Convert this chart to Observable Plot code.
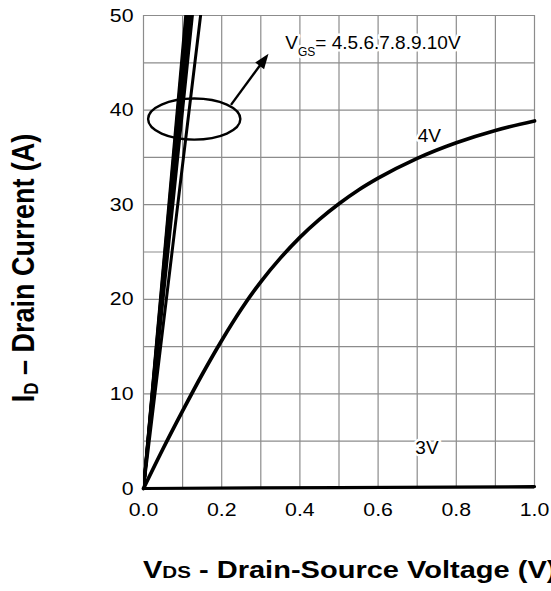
<!DOCTYPE html>
<html>
<head>
<meta charset="utf-8">
<script src="https://cdn.jsdelivr.net/npm/d3@7"></script>
<script src="https://cdn.jsdelivr.net/npm/@observablehq/plot@0.6"></script>
<style>
  html, body { margin: 0; padding: 0; background: #fff; }
</style>
</head>
<body>
<div id="chart"></div>
<script>
// ---- tick labels / grid ----
const xTicks = [0, 0.2, 0.4, 0.6, 0.8, 1.0];
const yTicks = [0, 10, 20, 30, 40, 50];
const xGrid = [0, 0.1, 0.2, 0.3, 0.4, 0.5, 0.6, 0.7, 0.8, 0.9, 1.0];
const yGrid = [0, 5, 10, 15, 20, 25, 30, 35, 40, 45, 50];

// ---- VGS = 4.5 ... 10 V: nearly straight lines, VDS where they leave the top (ID = 50 A) ----
const bandVgs = ["10V", "9V", "8V", "7V", "6V", "5V", "4.5V"];
const bandVdsAt50A = [0.108, 0.110, 0.112, 0.115, 0.119, 0.125, 0.146];

// ---- VGS = 4 V curve ----
const vds4V = [0, 0.05, 0.1, 0.15, 0.2, 0.25, 0.3, 0.35, 0.4, 0.45, 0.5, 0.55, 0.6, 0.7, 0.8, 0.9, 1.0];
const id4V  = [0, 4.2, 8.2, 12.05, 15.65, 18.95, 21.85, 24.35, 26.55, 28.45, 30.1, 31.55, 32.8, 34.9, 36.55, 37.85, 38.85];

// ---- VGS = 3 V curve ----
const vds3V = [0, 0.5, 1.0];
const id3V  = [0, 0.1, 0.2];

// ---- annotations ----
const curveLabels = ["4V", "3V"];
const curveLabelVds = [0.731, 0.725];
const curveLabelId = [37.3, 4.3];
const vgsNote = ["V", "GS", "= 4.5.6.7.8.9.10V"];
const vgsNoteAt = [0.364, 46.4];
const ellipseCenter = [0.131, 39.0];
const ellipseRadii = [0.118, 2.17];
const arrowFrom = [0.225, 40.5];
const arrowTo = [0.321, 45.9];

// build tables
const bandRows = bandVgs.flatMap((v, i) => [
  {vgs: v, vds: 0, id: 0},
  {vgs: v, vds: bandVdsAt50A[i], id: 50}
]);
const rows4V = vds4V.map((v, i) => ({vds: v, id: id4V[i]}));
const rows3V = vds3V.map((v, i) => ({vds: v, id: id3V[i]}));
const labelRows = curveLabels.map((t, i) => ({text: t, vds: curveLabelVds[i], id: curveLabelId[i]}));

const gridStyle = {stroke: "#8c8c8c", strokeOpacity: 1, strokeWidth: 1.2};

const plot = Plot.plot({
  width: 551,
  height: 591,
  marginLeft: 143,
  marginRight: 17,
  marginTop: 15,
  marginBottom: 103,
  style: {fontFamily: "'Liberation Sans', Arial, Helvetica, sans-serif", fontSize: "19px", background: "#fff", color: "#000"},
  x: {domain: [0, 1], label: null},
  y: {domain: [0, 50], label: null},
  marks: [
    Plot.gridX(xGrid, gridStyle),
    Plot.gridY(yGrid, gridStyle),
    Plot.axisX(xTicks, {tickSize: 0, tickPadding: 14, tickFormat: d3.format(".1f"), fontSize: 19, label: null}),
    Plot.axisY(yTicks, {tickSize: 0, tickPadding: 10, fontSize: 19, label: null}),
    Plot.line(bandRows, {x: "vds", y: "id", z: "vgs", stroke: "#000", strokeWidth: 3, clip: true}),
    Plot.line(rows4V, {x: "vds", y: "id", curve: "monotone-x", stroke: "#000", strokeWidth: 3.7}),
    Plot.line(rows3V, {x: "vds", y: "id", stroke: "#000", strokeWidth: 3.2}),
    Plot.text(labelRows, {x: "vds", y: "id", text: "text", fontSize: 19, fill: "#000", stroke: "#fff", strokeWidth: 5, textAnchor: "middle", lineAnchor: "middle"})
  ]
});

document.getElementById("chart").append(plot);

const X = plot.scale("x"), Y = plot.scale("y");
const svg = d3.select(plot);

// slightly widen tick labels like the reference
svg.selectAll('g[aria-label$="tick label"] text').each(function() {
  const w = this.getComputedTextLength();
  this.setAttribute("textLength", (w * 1.12).toFixed(2));
  this.setAttribute("lengthAdjust", "spacingAndGlyphs");
});

// VGS annotation
const note = svg.append("text")
  .attr("x", X.apply(vgsNoteAt[0]))
  .attr("y", Y.apply(vgsNoteAt[1]))
  .attr("text-anchor", "start")
  .attr("font-size", 19)
  .attr("fill", "#000")
  .attr("stroke", "#fff")
  .attr("stroke-width", 5)
  .attr("stroke-linejoin", "round")
  .attr("paint-order", "stroke");
note.append("tspan").text(vgsNote[0]);
note.append("tspan").attr("font-size", 12).attr("dy", 7).text(vgsNote[1]);
note.append("tspan").attr("dy", -7).text(vgsNote[2]);

// ellipse grouping the 4.5..10 V curves
const ecx = X.apply(ellipseCenter[0]), ecy = Y.apply(ellipseCenter[1]);
svg.append("ellipse")
  .attr("cx", ecx).attr("cy", ecy)
  .attr("rx", X.apply(ellipseCenter[0] + ellipseRadii[0]) - ecx)
  .attr("ry", Y.apply(ellipseCenter[1] - ellipseRadii[1]) - ecy)
  .attr("fill", "none").attr("stroke", "#000").attr("stroke-width", 2.4);

// arrow
const p1 = [X.apply(arrowFrom[0]), Y.apply(arrowFrom[1])];
const p2 = [X.apply(arrowTo[0]), Y.apply(arrowTo[1])];
const len = Math.hypot(p2[0] - p1[0], p2[1] - p1[1]);
const ux = (p2[0] - p1[0]) / len, uy = (p2[1] - p1[1]) / len;
const headL = 15, headW = 5.5;
const base = [p2[0] - ux * headL, p2[1] - uy * headL];
svg.append("line")
  .attr("x1", p1[0]).attr("y1", p1[1])
  .attr("x2", base[0] + ux * 2).attr("y2", base[1] + uy * 2)
  .attr("stroke", "#000").attr("stroke-width", 2.4);
svg.append("polygon")
  .attr("points", [
    p2,
    [base[0] - uy * headW, base[1] + ux * headW],
    [base[0] + uy * headW, base[1] - ux * headW]
  ].map(p => p.join(",")).join(" "))
  .attr("fill", "#000");

// x-axis title
const xt = svg.append("g")
  .attr("transform", "translate(143,578) scale(1.21,1)")
  .append("text")
  .attr("text-anchor", "start")
  .attr("font-weight", "bold").attr("font-size", 24).attr("fill", "#000");
xt.append("tspan").text("V");
xt.append("tspan").attr("font-size", 17).text("DS");
xt.append("tspan").text(" - Drain-Source Voltage (V)");

// y-axis title
const yt = svg.append("g")
  .attr("transform", "translate(33.5,268) scale(1.15,1) rotate(-90)")
  .append("text")
  .attr("text-anchor", "middle")
  .attr("font-weight", "bold").attr("font-size", 27).attr("fill", "#000");
yt.append("tspan").text("I");
yt.append("tspan").attr("font-size", 17).attr("dy", 4).text("D");
yt.append("tspan").attr("dy", -4).text(" \u2013 Drain Current (A)");
</script>
</body>
</html>
